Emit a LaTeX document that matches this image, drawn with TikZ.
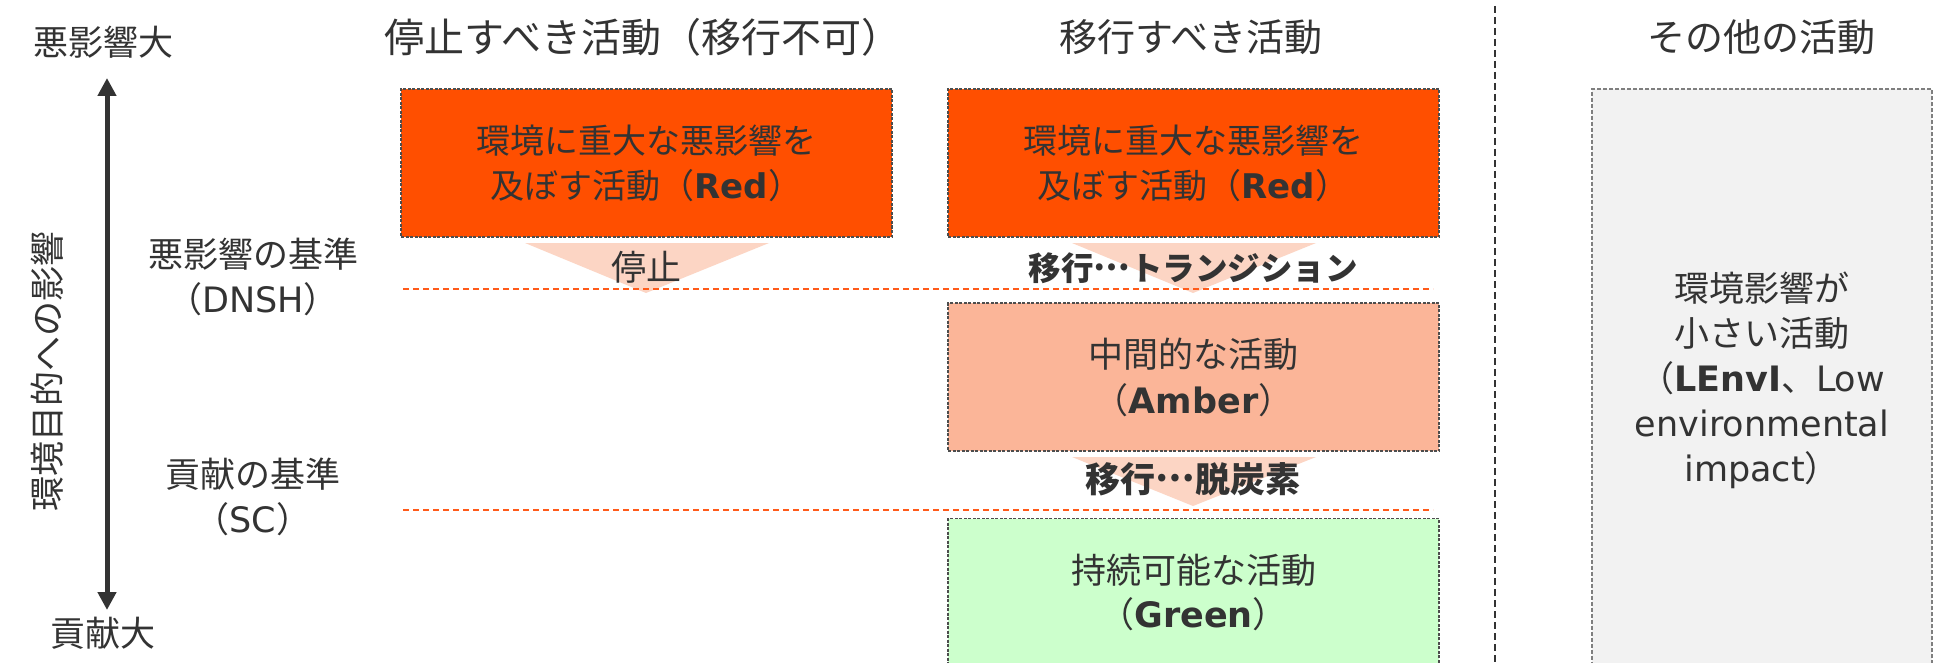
\documentclass[tikz,border=0pt]{standalone}
\usepackage{fontspec}
\setmainfont{Noto Sans CJK JP}
\newfontfamily\lat{DejaVu Sans}
\usetikzlibrary{arrows.meta}
\definecolor{txt}{HTML}{333333}
\definecolor{redf}{HTML}{FF4F00}
\definecolor{amberf}{HTML}{FBB598}
\definecolor{greenf}{HTML}{CCFFCC}
\definecolor{grayf}{HTML}{F2F2F2}
\definecolor{trif}{HTML}{FCD5C4}
\definecolor{lineor}{HTML}{FF5A1A}
\definecolor{bord}{HTML}{4D4D4D}
\definecolor{gbord}{HTML}{7F7F7F}
\newcommand{\middots}{\raisebox{0.3em}{…}}
\begin{document}
\begin{tikzpicture}[x=1pt,y=-1pt,
  box/.style={draw=bord, line width=1.1pt, dash pattern=on 3pt off 1.5pt,
    minimum width=491pt, minimum height=148pt, inner sep=0pt, align=center,
    text=txt, font=\fontsize{34}{45}\selectfont},
  lbl/.style={text=txt, font=\fontsize{35}{45}\selectfont, align=center, inner sep=0pt},
  head/.style={text=txt, font=\fontsize{38}{45}\selectfont, inner sep=0pt},
  blbl/.style={text=txt, font=\fontsize{34}{45}\selectfont\bfseries, inner sep=0pt},
  tri/.style={fill=trif, draw=none},
  crit/.style={draw=lineor, line width=2pt, dash pattern=on 6pt off 4pt},
  divider/.style={draw=txt, line width=2.5pt, dash pattern=on 7pt off 4pt},
  axisarrow/.style={draw=txt, line width=5pt,
    {Triangle[width=18pt,length=18pt]}-{Triangle[width=18pt,length=18pt]}},
]
\clip (0,0) rectangle (1934,663);
\fill[white] (0,0) rectangle (1934,663);

% left axis
\node[lbl] (top) at (103,42) {悪影響大};
\node[lbl] (bottom) at (103,633) {貢献大};
\coordinate (atop) at (107,78);
\coordinate (abot) at (107,610);
\draw[axisarrow] (atop) -- (abot);
\node[lbl, rotate=90] (axis) at (47,371) {環境目的への影響};
\node[lbl] (dnsh) at (253,277) {悪影響の基準\\（{\lat DNSH}）};
\node[lbl] (sc) at (253,497) {貢献の基準\\（{\lat SC}）};

% headers
\node[head, font=\fontsize{40}{45}\selectfont] (h1) at (643,37) {停止すべき活動（移行不可）};
\node[head] (h2) at (1191,37) {移行すべき活動};
\node[head] (h3) at (1761,37) {その他の活動};

% divider
\coordinate (dtop) at (1495,6);
\coordinate (dbot) at (1495,663);
\draw[divider] (dtop) -- (dbot);

% triangles
\fill[tri] (525,243) -- (769,243) -- (646,293) -- cycle;
\fill[tri] (1072,243) -- (1316,243) -- (1193,293) -- cycle;
\fill[tri] (1072,457) -- (1316,457) -- (1193,506) -- cycle;

% criteria lines
\coordinate (c1l) at (403,289);
\coordinate (c1r) at (1433,289);
\coordinate (c2l) at (403,510);
\coordinate (c2r) at (1433,510);
\draw[crit] (c1l) -- (c1r);
\draw[crit] (c2l) -- (c2r);

% boxes
\node[box, fill=redf] (stopred) at (646.5,163) {環境に重大な悪影響を\\及ぼす活動（{\lat\bfseries Red}）};
\node[box, fill=redf] (movered) at (1193.5,163) {環境に重大な悪影響を\\及ぼす活動（{\lat\bfseries Red}）};
\node[box, fill=amberf, font=\fontsize{35}{46}\selectfont] (amber) at (1193.5,377) {中間的な活動\\（{\lat\bfseries Amber}）};
\node[box, fill=greenf, font=\fontsize{35}{44}\selectfont] (green) at (1193.5,592.5) {持続可能な活動\\（{\lat\bfseries Green}）};
\node[box, fill=grayf, draw=gbord, dash pattern=on 4pt off 2pt, minimum width=340pt,
  minimum height=583pt, font=\fontsize{35}{45}\selectfont] (other) at (1762,380.5)
  {環境影響が\\小さい活動\\（{\lat\bfseries LEnvI}、{\lat Low}\\{\lat environmental}\\{\lat impact}）};

% arrow labels
\node[lbl] (stop) at (646,267) {停止};
\node[blbl, font=\fontsize{32.5}{45}\selectfont\bfseries] (trans) at (1193,268) {移行\middots トランジション};
\node[blbl, font=\fontsize{35}{45}\selectfont\bfseries] (decarb) at (1193,479) {移行\middots 脱炭素};
\end{tikzpicture}
\end{document}
